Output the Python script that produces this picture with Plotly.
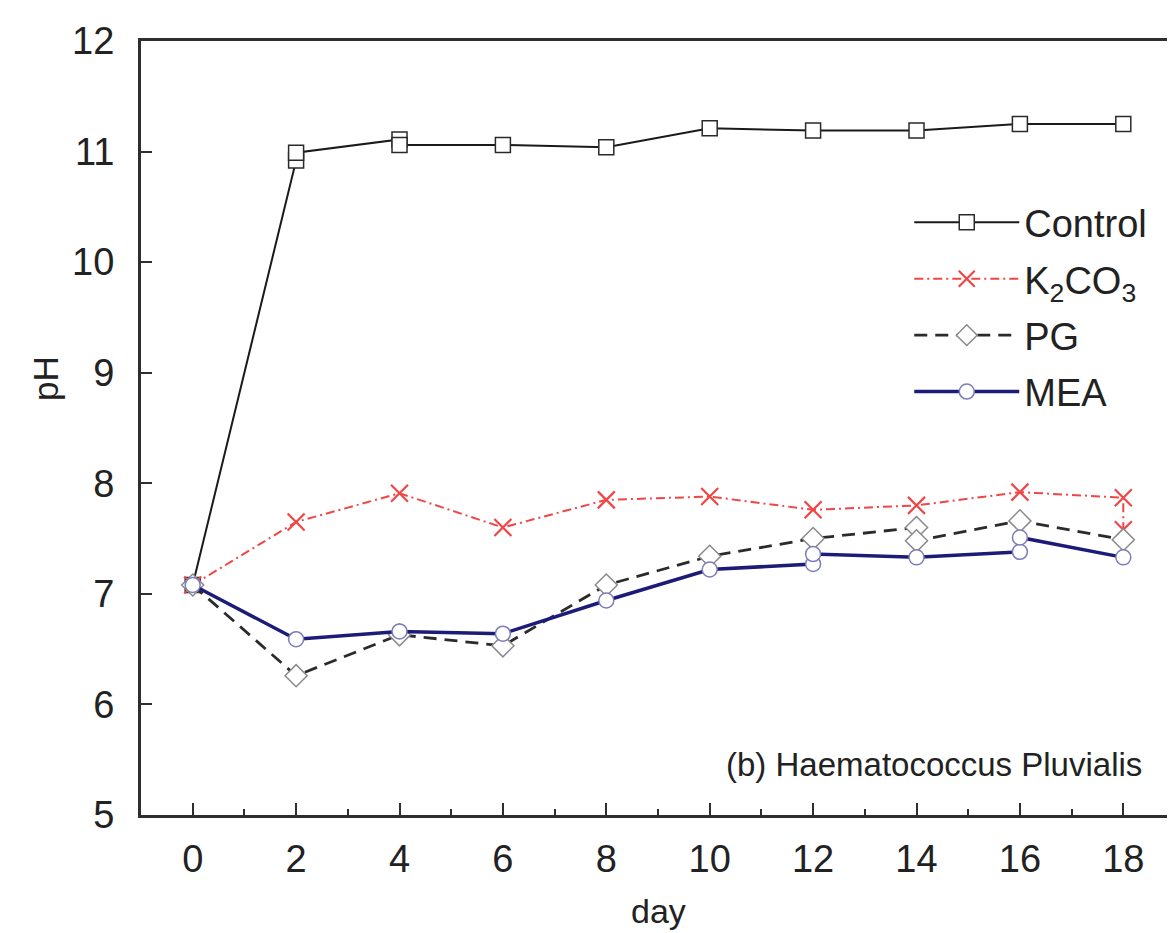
import plotly.graph_objects as go

# pH over time, (b) Haematococcus Pluvialis
# repeated day values = two readings plotted at the same day
control_day = [0, 2, 2, 4, 4, 6, 8, 10, 12, 14, 16, 18]
control_ph = [7.08, 10.92, 10.99, 11.11, 11.06, 11.06, 11.04, 11.21, 11.19, 11.19, 11.25, 11.25]

k2co3_day = [0, 2, 4, 6, 8, 10, 12, 14, 16, 18, 18]
k2co3_ph = [7.08, 7.65, 7.91, 7.60, 7.85, 7.88, 7.76, 7.80, 7.92, 7.87, 7.58]

pg_day = [0, 2, 4, 6, 8, 10, 12, 14, 14, 16, 18]
pg_ph = [7.08, 6.26, 6.63, 6.53, 7.08, 7.34, 7.50, 7.60, 7.48, 7.66, 7.49]

mea_day = [0, 2, 4, 6, 8, 10, 12, 12, 14, 16, 16, 18]
mea_ph = [7.08, 6.59, 6.66, 6.64, 6.94, 7.22, 7.27, 7.36, 7.33, 7.38, 7.51, 7.33]

FONT = "Liberation Sans, Arial, sans-serif"
TXT = "#222222"
AXIS_COL = "#2e2e2e"

fig = go.Figure()

fig.add_trace(go.Scatter(
    x=control_day, y=control_ph, name="Control", mode="lines+markers",
    legendgroup="a",
    line=dict(color="#1a1a1a", width=2),
    marker=dict(symbol="square", size=15, color="white", line=dict(color="#2a2a2a", width=1.5)),
))
fig.add_trace(go.Scatter(
    x=k2co3_day, y=k2co3_ph, name="K<sub>2</sub>CO<sub>3</sub>", mode="lines+markers",
    legendgroup="b",
    line=dict(color="#f04646", width=2, dash="9px,4px,2px,4px"),
    marker=dict(symbol="x-thin", size=17, color="#f04646", line=dict(color="#f04646", width=2.2)),
))
fig.add_trace(go.Scatter(
    x=pg_day, y=pg_ph, name="PG", mode="lines+markers",
    legendgroup="c",
    line=dict(color="#2b2b2b", width=2.8, dash="13px,8px"),
    marker=dict(symbol="diamond", size=17, color="white", line=dict(color="#8a8a8a", width=1.5)),
))
fig.add_trace(go.Scatter(
    x=mea_day, y=mea_ph, name="MEA", mode="lines+markers",
    legendgroup="d",
    line=dict(color="#1c1c78", width=3.5),
    marker=dict(symbol="circle", size=15, color="white", line=dict(color="#7c7cb8", width=1.5)),
))

fig.add_annotation(
    x=0.97, xref="x domain", y=5.46, yref="y",
    text="(b) Haematococcus Pluvialis", showarrow=False,
    xanchor="right", yanchor="middle",
    font=dict(family=FONT, size=33, color=TXT),
)
# axis titles as annotations (pH sits above the axis centre in the original)
fig.add_annotation(
    x=-0.093, xref="paper", y=8.95, yref="y",
    text="pH", textangle=-90, showarrow=False,
    xanchor="center", yanchor="middle",
    font=dict(family=FONT, size=35, color=TXT),
)
fig.add_annotation(
    x=0.5, xref="paper", y=-0.124, yref="paper",
    text="day", showarrow=False,
    xanchor="center", yanchor="middle",
    font=dict(family=FONT, size=34, color=TXT),
)

fig.update_xaxes(
    range=[-1, 19], tickmode="array", tickvals=list(range(0, 19, 2)),
    ticks="inside", ticklen=12, tickwidth=2, tickcolor=AXIS_COL,
    minor=dict(tickvals=list(range(1, 19, 2)), ticks="inside", ticklen=6, tickwidth=2, tickcolor=AXIS_COL),
    showline=True, linewidth=3, linecolor=AXIS_COL, mirror=True,
    showgrid=False, zeroline=False,
    tickfont=dict(family=FONT, size=38, color=TXT),
    ticklabelstandoff=8,
)
fig.update_yaxes(
    range=[5, 12], dtick=1,
    ticks="inside", ticklen=11, tickwidth=2, tickcolor=AXIS_COL,
    showline=True, linewidth=3, linecolor=AXIS_COL, mirror=True,
    showgrid=False, zeroline=False,
    tickfont=dict(family=FONT, size=38, color=TXT),
    ticklabelstandoff=16,
)

fig.update_layout(
    width=1175, height=933,
    paper_bgcolor="white", plot_bgcolor="white",
    margin=dict(l=133, r=5, t=33, b=126),
    showlegend=True,
    legend=dict(
        x=0.743, y=0.806, xanchor="left", yanchor="top",
        bgcolor="rgba(0,0,0,0)", itemwidth=105, tracegroupgap=4,
        font=dict(family=FONT, size=38, color=TXT),
    ),
)

fig.write_html("out.html")
